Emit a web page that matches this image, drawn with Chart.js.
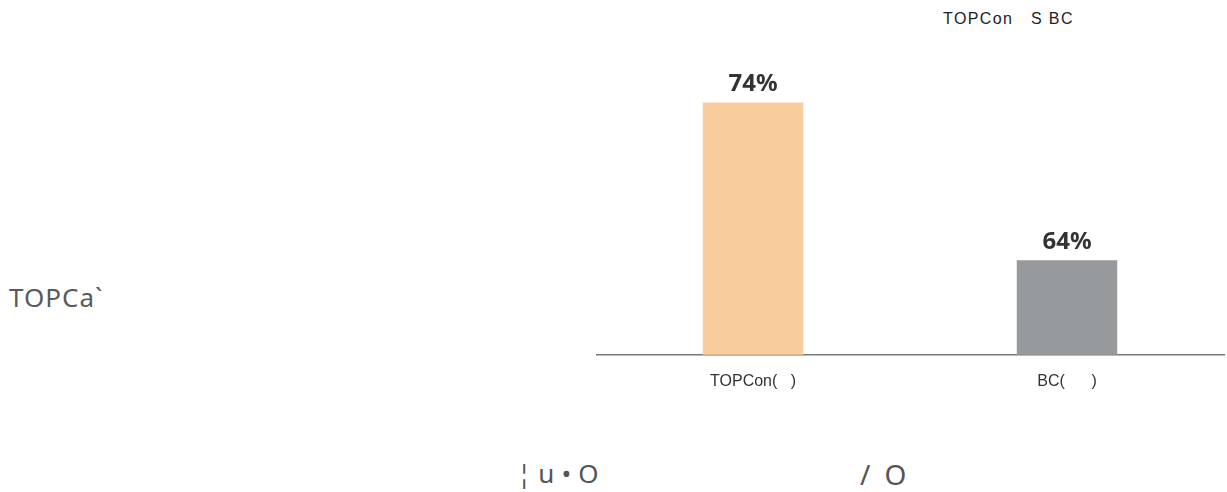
<!DOCTYPE html>
<html>
<head>
<meta charset="utf-8">
<script src="https://cdn.jsdelivr.net/npm/chart.js@4"></script>
<style>
  html, body { margin: 0; padding: 0; background: #fff; width: 1227px; height: 492px; overflow: hidden; }
  .t { position: absolute; white-space: pre; }
  #title { left: 943px; top: 10px; font: 16px "Liberation Sans", Arial, sans-serif; color: #222; letter-spacing: 1.4px; }
  #left { left: 9px; top: 279px; font: 26px "Noto Sans", sans-serif; color: #5a5a5a; letter-spacing: 1px; }
  #b1 { left: 517px; top: 455px; font: 26px "Noto Sans", sans-serif; color: #555; letter-spacing: 7px; }
  #b2 { left: 860px; top: 455px; font: 28px "Noto Sans", sans-serif; color: #555; letter-spacing: 14px; }
  #wrap { position: absolute; left: 596px; top: 0; width: 631px; height: 420px; }
</style>
</head>
<body>
<div class="t" id="title">TOPCon   S BC</div>
<div class="t" id="left">TOPCa`</div>
<div class="t" id="b1">¦u•O</div>
<div class="t" id="b2">/O</div>
<div id="wrap"><canvas id="c"></canvas></div>
<script>
const categories = ["TOPCon(   )", "BC(      )"];
const values = [74, 64];
const valueLabels = ["74%", "64%"];
const barColors = ["#F9CC9D", "#979A9C"];

const valuePlugin = {
  id: 'valueLabels',
  afterDatasetsDraw(chart) {
    const ctx = chart.ctx;
    const meta = chart.getDatasetMeta(0);
    ctx.save();
    ctx.font = 'bold 24px "Noto Sans", sans-serif';
    ctx.fillStyle = '#333';
    ctx.textAlign = 'center';
    ctx.textBaseline = 'middle';
    meta.data.forEach((bar, i) => {
      ctx.fillText(valueLabels[i], bar.x, bar.y - 18);
    });
    ctx.restore();
  }
};

new Chart(document.getElementById('c'), {
  type: 'bar',
  data: {
    labels: categories,
    datasets: [{
      data: values,
      backgroundColor: barColors,
      borderWidth: 0,
      barPercentage: 0.32,
      categoryPercentage: 1.0
    }]
  },
  options: {
    responsive: true,
    maintainAspectRatio: false,
    animation: false,
    layout: { padding: { left: 0, right: 3, top: 0, bottom: 12 } },
    plugins: { legend: { display: false }, tooltip: { enabled: false } },
    scales: {
      x: {
        grid: { display: false, drawTicks: false },
        border: { display: true, color: '#777', width: 1.5 },
        ticks: { color: '#333', font: { family: '"Liberation Sans", Arial, sans-serif', size: 16 }, padding: 17 }
      },
      y: {
        display: false,
        min: 58,
        max: 80.5
      }
    }
  },
  plugins: [valuePlugin]
});
</script>
</body>
</html>
